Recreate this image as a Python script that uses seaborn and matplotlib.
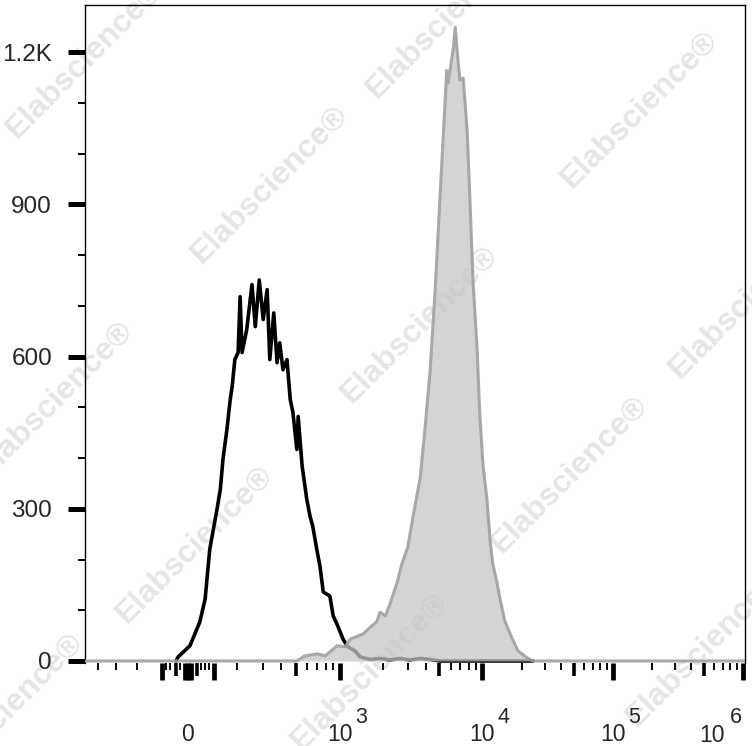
# Histogramme de cytométrie : contrôle (ligne noire) vs échantillon marqué (gris rempli)
# L'axe X est en "canaux" d'affichage (0-1000), les décades sont placées à la main

import numpy as np
import matplotlib.pyplot as plt
import seaborn as sns

# --- données (canal d'affichage, nombre d'événements) ---
ctrl_channel = [138, 141, 159, 174, 182, 189, 200, 205, 209, 215, 220, 223, 227, 232,
                235, 238, 245, 253, 258, 264, 270, 276, 280, 286, 291, 295, 300, 306,
                311, 315, 321, 323, 329, 336, 341, 345, 352, 356, 361, 371, 376, 383,
                391, 398, 409, 417, 432, 447, 462, 477, 492, 508, 523, 538, 679]
ctrl_count = [0, 8, 30, 77, 122, 220, 299, 338, 397, 456, 515, 541, 594, 608,
              718, 608, 653, 742, 659, 751, 673, 732, 594, 686, 588, 627, 574, 594,
              515, 490, 417, 482, 384, 319, 285, 266, 214, 187, 136, 128, 89, 69,
              43, 28, 20, 8, 3, 5, 2, 5, 2, 5, 3, 0, 0]

stain_channel = [0, 321, 333, 352, 364, 382, 394, 402, 421, 436, 442, 447, 455, 462,
                 473, 480, 489, 497, 508, 515, 523, 530, 538, 545, 548, 550, 553, 558,
                 561, 564, 568, 573, 579, 583, 588, 594, 598, 603, 609, 614, 618, 624,
                 629, 636, 647, 656, 670, 679, 1000]
stain_count = [0, 0, 10, 14, 10, 30, 28, 43, 53, 71, 77, 96, 89, 112,
               155, 191, 224, 285, 362, 456, 574, 720, 917, 1088, 1164, 1139, 1164, 1208,
               1249, 1200, 1145, 1149, 1046, 917, 746, 618, 490, 387, 319, 234, 191, 155,
               122, 79, 45, 20, 6, 0, 0]

# position des décades sur l'axe (canal) et leurs étiquettes
decade_pos = [156, 386, 602, 800, 997]
decade_labels = ["0", "10", "10", "10", ""]
decade_exp = ["", "3", "4", "5", "6"]
hundred_pos = 164          # position de 10^2 (zone quasi linéaire)
neg_ticks = [20, 47, 79]   # graduations côté négatif
cluster_long = [117, 151, 161, 196]
cluster_mid = [138, 170]
cluster_short = [123, 129, 144, 176, 182, 188]

y_major = [0, 300, 600, 900, 1200]
y_labels = ["0", "300", "600", "900", "1.2K"]

watermark_xy = [(85, 60), (270, 185), (445, 20), (640, 110), (55, 400), (420, 325),
                (748, 300), (195, 545), (570, 475), (5, 712), (370, 672), (705, 648)]

COLOR_CTRL = "#000000"
COLOR_FILL = "#c6c6c6"
COLOR_EDGE = "#a0a0a0"

sns.set_style("ticks")
plt.rcParams["font.family"] = ["Liberation Sans", "DejaVu Sans"]

fig = plt.figure(figsize=(7.52, 7.46), dpi=100)
ax = fig.add_axes([85 / 752, 83 / 746, 660 / 752, 658 / 746])
ax.patch.set_alpha(0)

# filigranes (derrière les données)
for wx, wy in watermark_xy:
    fig.text(wx / 752, 1 - wy / 746, "Elabscience®", rotation=45, ha="center",
             va="center", fontsize=23, fontweight="bold", color="#e6e6e6",
             zorder=-1)

# contrôle
sns.lineplot(x=ctrl_channel, y=ctrl_count, estimator=None, sort=False,
             color=COLOR_CTRL, linewidth=2.6, ax=ax, zorder=2)

# échantillon marqué, rempli et semi-transparent
ax.fill_between(stain_channel, stain_count, 0, color=COLOR_FILL, alpha=0.75,
                linewidth=0, zorder=3)
sns.lineplot(x=stain_channel, y=stain_count, estimator=None, sort=False,
             color=COLOR_EDGE, linewidth=2.2, alpha=0.9, ax=ax, zorder=4)

ax.set_xlim(0, 1000)
ax.set_ylim(-4, 1293)
ax.set_xlabel("")
ax.set_ylabel("")

# graduations X : décades logarithmiques
log_minor, log_mid = [], []
starts = [hundred_pos] + decade_pos[1:4]
ends = decade_pos[1:5]
for a, b in zip(starts, ends):
    for k in range(2, 10):
        p = a + np.log10(k) * (b - a)
        (log_mid if k == 5 else log_minor).append(p)

ax.set_xticks(decade_pos + cluster_long,
              labels=decade_labels + [""] * len(cluster_long))
ax.set_xticks(log_minor + neg_ticks + cluster_short, minor=True)
for lbl in ax.get_xticklabels():
    lbl.set_verticalalignment("baseline")
ax.tick_params(axis="x", which="major", direction="out", length=12.2, width=3.4,
               pad=44, labelsize=16.5, color="black")
ax.tick_params(axis="x", which="minor", direction="out", length=5, width=1.4,
               color="black")

# exposants (plus gros qu'un exposant mathtext, comme sur l'original)
for pos, exp in zip(decade_pos, decade_exp):
    if not exp:
        continue
    dx = 10.8 if exp != "6" else -9.4
    ax.annotate(exp, xy=(pos, 0), xycoords=("data", "axes fraction"),
                xytext=(dx, -43.5), textcoords="offset points",
                ha="left", va="baseline", fontsize=15.5)
# le dernier "10" est décalé vers la gauche pour rester dans l'image
ax.annotate("10", xy=(decade_pos[-1], 0), xycoords=("data", "axes fraction"),
            xytext=(-22.3, -56.9), textcoords="offset points",
            ha="center", va="baseline", fontsize=16.5)

sec = ax.secondary_xaxis("bottom")
sec.set_xticks(log_mid + cluster_mid, labels=[""] * len(log_mid + cluster_mid))
sec.tick_params(axis="x", direction="out", length=9.4, width=2.6, color="black")
sec.spines["bottom"].set_visible(False)

# graduations Y
ax.set_yticks(y_major, labels=y_labels)
ax.set_yticks(np.arange(100, 1300, 100), minor=True)
ax.tick_params(axis="y", which="major", direction="out", length=12.2, width=3.6,
               pad=11.5, labelsize=17.5, color="black")
ax.tick_params(axis="y", which="minor", direction="out", length=5, width=1.4,
               color="black")

for side in ["left", "top", "right"]:
    ax.spines[side].set_visible(True)
    ax.spines[side].set_color("black")
    ax.spines[side].set_linewidth(1.0)
ax.spines["bottom"].set_visible(False)

fig.savefig("out.png", dpi=100)
